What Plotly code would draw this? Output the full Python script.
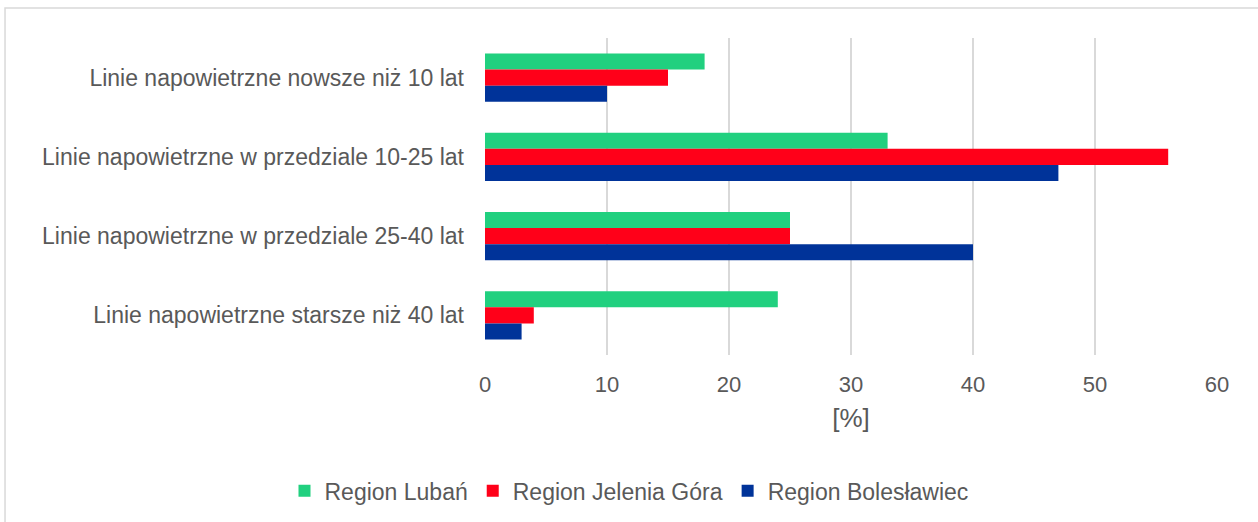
import plotly.graph_objects as go

kategorie = [
    'Linie napowietrzne nowsze niż 10 lat',
    'Linie napowietrzne w przedziale 10-25 lat',
    'Linie napowietrzne w przedziale 25-40 lat',
    'Linie napowietrzne starsze niż 40 lat',
]
luban = [18, 33, 25, 24]
jelenia_gora = [15, 56, 25, 4]
boleslawiec = [10, 47, 40, 3]

serie = [
    ('Region Lubań', luban, '#21d07f'),
    ('Region Jelenia Góra', jelenia_gora, '#ff0019'),
    ('Region Bolesławiec', boleslawiec, '#003399'),
]

fig = go.Figure()
for nazwa, wartosci, kolor in serie:
    fig.add_trace(go.Bar(y=kategorie, x=wartosci, name=nazwa, orientation='h',
                         marker=dict(color=kolor, line=dict(width=0))))

fig.update_layout(
    width=1258, height=522,
    barmode='group', bargap=0.39, bargroupgap=0,
    paper_bgcolor='white', plot_bgcolor='white',
    font=dict(family='Liberation Sans, Arial, sans-serif', size=22, color='#595959'),
    margin=dict(l=485, r=41, t=38, b=167),
    xaxis=dict(range=[0, 60], dtick=10, showgrid=True, gridcolor='#d9d9d9', gridwidth=1.5,
               zeroline=False, showline=False, ticks='', ticklen=0, ticklabelstandoff=14,
               title=dict(text='[%]', standoff=12)),
    yaxis=dict(autorange='reversed', showgrid=False, showline=False, ticks='', ticklen=0,
               ticklabelstandoff=20, tickfont=dict(size=23), automargin=False),
    legend=dict(orientation='h', x=0.5, xref='container', xanchor='center',
                y=0.06, yref='container', yanchor='middle', font=dict(size=23),
                itemwidth=30, traceorder='normal'),
    shapes=[dict(type='rect', xref='paper', yref='paper',
                 x0=-0.6557, x1=1.1, y0=-0.6, y1=1.0946,
                 line=dict(color='#d9d9d9', width=1.5), layer='below')],
)

fig.write_html('out.html', config={'displayModeBar': False},
               post_script="document.body.style.margin='0';")
